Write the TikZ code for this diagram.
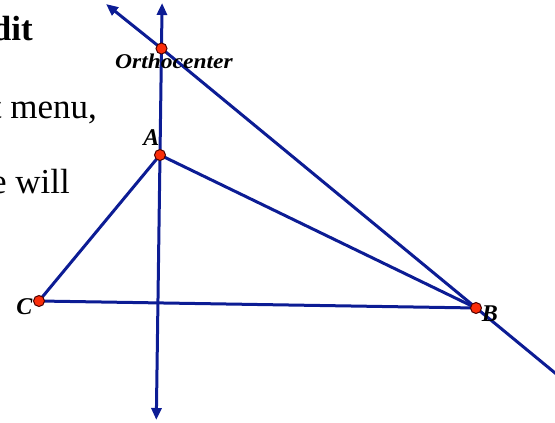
\documentclass[tikz,border=0pt]{standalone}
\usepackage{fontspec}
\setmainfont{Liberation Serif}
\usetikzlibrary{arrows.meta}
\definecolor{lineblue}{RGB}{12,28,148}
\definecolor{ptred}{RGB}{250,45,10}
\tikzset{
  geoline/.style={draw=lineblue, line width=3pt},
  arrowed/.style={geoline, -{Triangle[length=12pt,width=10pt]}},
  pt/.style={circle, draw=black!70!red, fill=ptred, line width=1pt, inner sep=0pt, minimum size=11pt},
  lbl/.style={font=\fontsize{24}{24}\selectfont\bfseries\itshape, inner sep=0pt, anchor=base},
  bodytext/.style={font=\fontsize{35}{35}\selectfont, inner sep=0pt, anchor=base east}
}
\begin{document}
\begin{tikzpicture}[x=1pt,y=-1pt]
\useasboundingbox (0,0) rectangle (555,423);
\clip (0,0) rectangle (555,423);
% text fragments
\node[bodytext, font=\fontsize{35}{35}\selectfont\bfseries] (t1) at (33,41) {dit};
\node[bodytext] (t2) at (97,118) {t menu,};
\node[bodytext] (t3) at (70,193) {e will};
% points
\coordinate (A) at (160,155);
\coordinate (B) at (476,308);
\coordinate (C) at (39,301);
\coordinate (H) at (161.5,48.5);
\coordinate (V1) at (162.1,3);
\coordinate (V2) at (156.3,420);
\coordinate (W1) at (106,4);
\coordinate (W2) at (566,382);
% lines
\draw[geoline] (A) -- (C);
\draw[geoline] (A) -- (B);
\draw[geoline] (C) -- (B);
\draw[arrowed] (A) -- (V1);
\draw[arrowed] (A) -- (V2);
\draw[arrowed] (H) -- (W1);
\draw[geoline] (H) -- (W2);
% dots
\node[pt] (pA) at (A) {};
\node[pt] (pB) at (B) {};
\node[pt] (pC) at (C) {};
\node[pt] (pH) at (H) {};
% labels
\node[lbl] (lA) at (151.5,145) {A};
\node[lbl] (lB) at (490,321) {B};
\node[lbl] (lC) at (24.5,314) {C};
\node[lbl, font=\fontsize{21}{21}\selectfont\bfseries\itshape] (lH) at (174,68) {\scalebox{1.12}[1]{Orthocenter}};
\end{tikzpicture}
\end{document}
